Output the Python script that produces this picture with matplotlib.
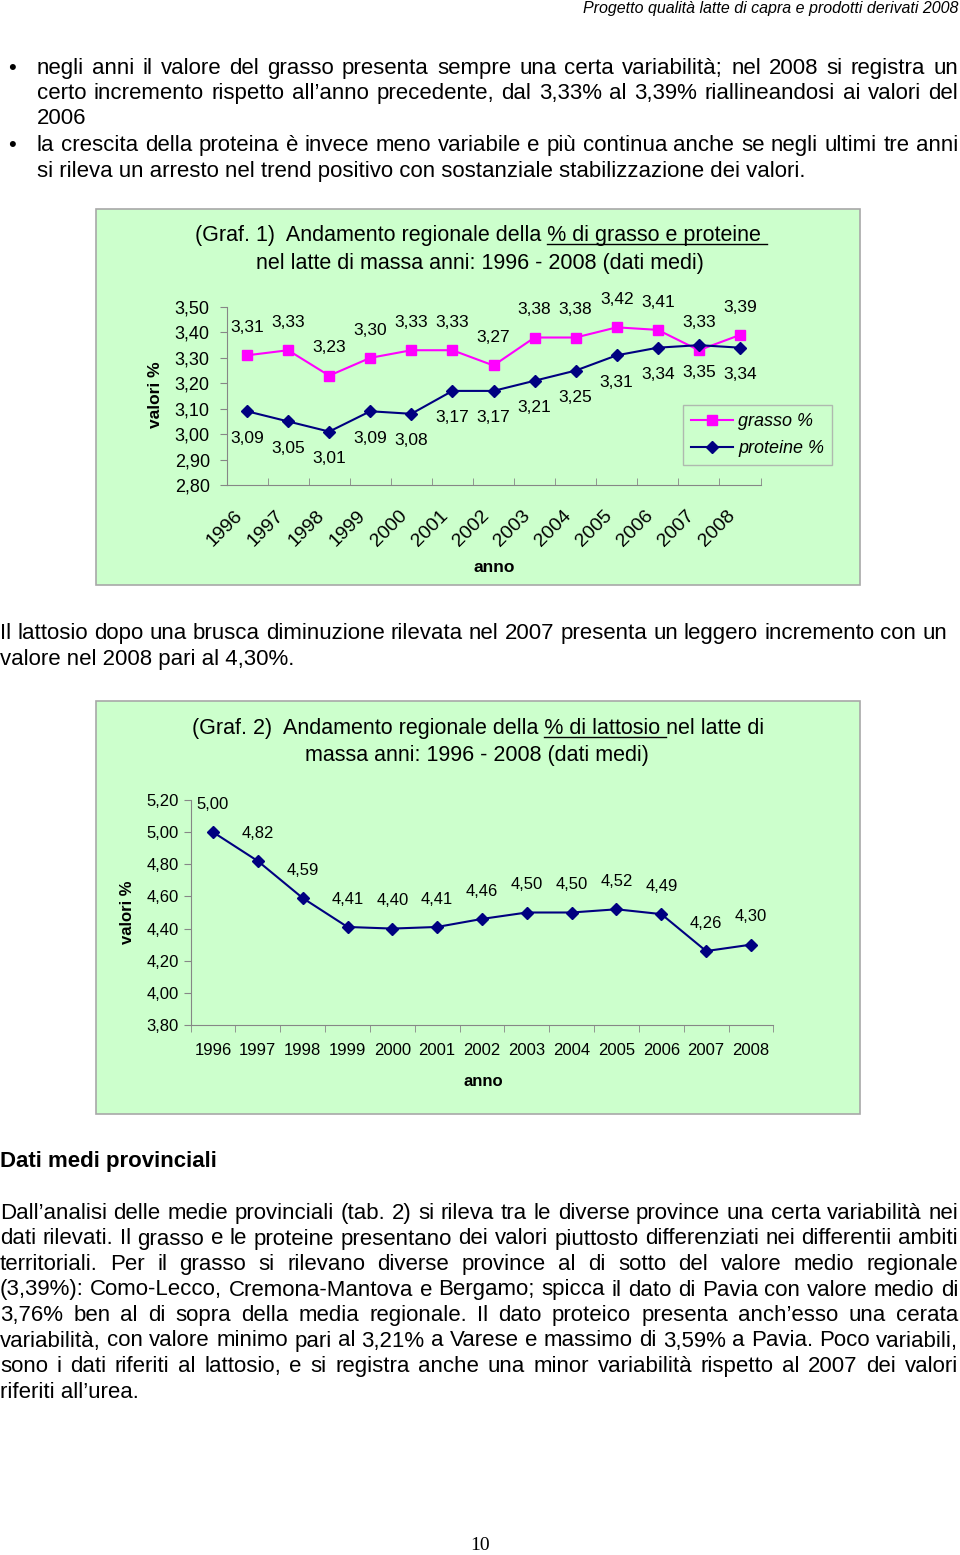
import numpy as np
import matplotlib
matplotlib.use('Agg')
import matplotlib.pyplot as plt
from matplotlib.lines import Line2D
from matplotlib.patches import Rectangle
from matplotlib.transforms import ScaledTranslation

# ---------------- data ----------------
years = ['1996', '1997', '1998', '1999', '2000', '2001', '2002',
         '2003', '2004', '2005', '2006', '2007', '2008']
grasso = [3.31, 3.33, 3.23, 3.30, 3.33, 3.33, 3.27, 3.38, 3.38, 3.42, 3.41, 3.33, 3.39]
proteine = [3.09, 3.05, 3.01, 3.09, 3.08, 3.17, 3.17, 3.21, 3.25, 3.31, 3.34, 3.35, 3.34]
lattosio = [5.00, 4.82, 4.59, 4.41, 4.40, 4.41, 4.46, 4.50, 4.50, 4.52, 4.49, 4.26, 4.30]
y1_ticks = [2.80, 2.90, 3.00, 3.10, 3.20, 3.30, 3.40, 3.50]
y2_ticks = [3.80, 4.00, 4.20, 4.40, 4.60, 4.80, 5.00, 5.20]

header = "Progetto qualità latte di capra e prodotti derivati 2008"
bullet1 = ["negli anni il valore del grasso presenta sempre una certa variabilità; nel 2008 si registra un",
           "certo incremento rispetto all’anno precedente, dal 3,33% al 3,39% riallineandosi ai valori del",
           "2006"]
bullet2 = ["la crescita della proteina è invece meno variabile e più continua anche se negli ultimi tre anni",
           "si rileva un arresto nel trend positivo con sostanziale stabilizzazione dei valori."]
latt_par = ["Il lattosio dopo una brusca diminuzione rilevata nel 2007 presenta un leggero incremento con un",
            "valore nel 2008 pari al 4,30%."]
section = "Dati medi provinciali"
final_par = ["Dall’analisi delle medie provinciali (tab. 2) si rileva tra le diverse province una certa variabilità nei",
             "dati rilevati. Il grasso e le proteine presentano dei valori piuttosto differenziati nei differentii ambiti",
             "territoriali. Per il grasso si rilevano diverse province al di sotto del valore medio regionale",
             "(3,39%): Como-Lecco, Cremona-Mantova e Bergamo; spicca il dato di Pavia con valore medio di",
             "3,76% ben al di sopra della media regionale. Il dato proteico presenta anch’esso una cerata",
             "variabilità, con valore minimo pari al 3,21% a Varese e massimo di 3,59% a Pavia. Poco variabili,",
             "sono i dati riferiti al lattosio, e si registra anche una minor variabilità rispetto al 2007 dei valori",
             "riferiti all’urea."]
title1 = ("(Graf. 1)  Andamento regionale della ", "% di grasso e proteine ", "")
title1b = "nel latte di massa anni: 1996 - 2008 (dati medi)"
title2 = ("(Graf. 2)  Andamento regionale della ", "% di lattosio ", "nel latte di")
title2b = "massa anni: 1996 - 2008 (dati medi)"

plt.rcParams['font.family'] = ['Liberation Sans', 'DejaVu Sans']

W, H = 960, 1555
fig = plt.figure(figsize=(9.6, 15.55), dpi=100)
fig.patch.set_facecolor('white')
renderer = fig.canvas.get_renderer()


def fx(x):
    return x / W


def fy(y):
    return 1 - y / H


def ptext(x, y, s, **kw):
    return fig.text(fx(x), fy(y), s, **kw)


def width_px(t):
    return t.get_window_extent(renderer=renderer).width


def adv(s, **kw):
    t1 = fig.text(0, 0, s + 'l', **kw)
    t2 = fig.text(0, 0, 'l', **kw)
    w = width_px(t1) - width_px(t2)
    t1.remove()
    t2.remove()
    return w


def line_out(line, x0, x1, y, size, just=True, **kw):
    words = line.split(' ')
    if not just or len(words) == 1:
        ptext(x0, y, line, fontsize=size, va='baseline', ha='left', **kw)
        return
    ts = [ptext(x0, y, w, fontsize=size, va='baseline', ha='left', **kw) for w in words]
    ws = [width_px(t) for t in ts]
    gap = (x1 - x0 - sum(ws)) / (len(words) - 1)
    x = x0
    for t, w in zip(ts, ws):
        t.set_x(fx(x))
        x += w + gap


BODY = 16
# header
ptext(958, 13, header, fontsize=11.5, style='italic', ha='right', va='baseline')

# bullets
ptext(8, 74, '•', fontsize=BODY, va='baseline')
line_out(bullet1[0], 37, 958, 74, BODY)
line_out(bullet1[1], 37, 958, 99, BODY)
line_out(bullet1[2], 37, 958, 124, BODY, just=False)
ptext(8, 151, '•', fontsize=BODY, va='baseline')
line_out(bullet2[0], 37, 958, 151, BODY)
line_out(bullet2[1], 37, 958, 177, BODY, just=False)

line_out(latt_par[0], 0, 947, 639, BODY)
line_out(latt_par[1], 0, 958, 665, BODY, just=False)

ptext(0, 1167, section, fontsize=BODY, fontweight='bold', va='baseline')
base = 1219
for i, l in enumerate(final_par):
    line_out(l, 0, 958, base + i * 25.5, BODY, just=(i < len(final_par) - 1))

ptext(480, 1550, '10', fontsize=14, family='Liberation Serif', ha='center', va='baseline')


def fmt(v):
    return f"{v:.2f}".replace('.', ',')


def title_line(parts, cx, y, size):
    pre, und, rest = parts
    full = pre + und + rest
    total = adv(full, fontsize=size)
    x0 = cx - total / 2
    ptext(x0, y, full, fontsize=size, ha='left', va='baseline')
    ua = x0 + adv(pre, fontsize=size)
    ub = x0 + adv(pre + und, fontsize=size)
    fig.add_artist(Line2D([fx(ua), fx(ub)], [fy(y + 3), fy(y + 3)],
                          transform=fig.transFigure, color='black', lw=1))


GRAY = '#868686'
BG = '#CCFFCC'
TSIZE = 15.5

# ---------------- chart 1 ----------------
fig.add_artist(Rectangle((fx(96), fy(585)), (860 - 96) / W, (585 - 209) / H,
                         transform=fig.transFigure, fc=BG, ec='#A8A8A8', lw=1.2, zorder=0))
title_line(title1, 481, 241, TSIZE)
ptext(480, 269, title1b, fontsize=TSIZE, ha='center', va='baseline')

ax1 = fig.add_axes([fx(226.5), fy(485), 534 / W, 178 / H])
ax1.patch.set_alpha(0)
x = np.arange(len(years))
ax1.plot(x, grasso, color='#FF00FF', marker='s', ms=6.5, lw=1.5, label='grasso %')
ax1.plot(x, proteine, color='#000080', marker='D', ms=6.5, lw=1.5, label='proteine %')
ax1.set_xlim(-0.5, 12.5)
ax1.set_ylim(2.80, 3.50)
ax1.set_yticks(y1_ticks, [fmt(v) for v in y1_ticks])
ax1.set_xticks(x, years, rotation=45, ha='right', rotation_mode='anchor')
ax1.set_xticks(np.arange(-0.5, 13, 1), minor=True)
for s in ['top', 'right']:
    ax1.spines[s].set_visible(False)
for s in ['left', 'bottom']:
    ax1.spines[s].set_color(GRAY)
ax1.tick_params(axis='y', length=5, color=GRAY, pad=7, labelsize=13)
ax1.tick_params(axis='x', which='major', length=0, pad=16, labelsize=14)
ax1.tick_params(axis='x', which='minor', length=5, direction='in', color=GRAY)
for lab in ax1.get_xticklabels():
    lab.set_transform(lab.get_transform() + ScaledTranslation(-0.13, 0, fig.dpi_scale_trans))
for i, v in enumerate(grasso):
    ax1.annotate(fmt(v), (i, v), xytext=(0, 20), textcoords='offset points',
                 ha='center', va='center', fontsize=12.5)
for i, v in enumerate(proteine):
    ax1.annotate(fmt(v), (i, v), xytext=(0, -19.5), textcoords='offset points',
                 ha='center', va='center', fontsize=12.5)
ax1.set_ylabel('valori %', fontweight='bold', fontsize=12.5, va='center')
ax1.yaxis.set_label_coords(fx(155), fy(395), transform=fig.transFigure)
ax1.set_xlabel('anno', fontweight='bold', fontsize=12.5, va='center')
ax1.xaxis.set_label_coords(fx(494), fy(567), transform=fig.transFigure)
leg = ax1.legend(loc='upper left', bbox_to_anchor=(fx(683), fy(405)),
                 bbox_transform=fig.transFigure, borderaxespad=0, frameon=True,
                 fancybox=False, edgecolor='#A8A8A8', facecolor='none',
                 prop={'style': 'italic', 'size': 13}, handlelength=2.3,
                 labelspacing=0.55, borderpad=0.45, handletextpad=0.3)
leg.get_frame().set_linewidth(1)

# ---------------- chart 2 ----------------
fig.add_artist(Rectangle((fx(96), fy(1114)), (860 - 96) / W, (1114 - 701) / H,
                         transform=fig.transFigure, fc=BG, ec='#A8A8A8', lw=1.2, zorder=0))
title_line(title2, 478, 734, TSIZE)
ptext(477, 761, title2b, fontsize=TSIZE, ha='center', va='baseline')

ax2 = fig.add_axes([fx(190.6), fy(1025), (773.4 - 190.6) / W, 225 / H])
ax2.patch.set_alpha(0)
ax2.plot(x, lattosio, color='#000080', marker='D', ms=6.5, lw=1.5)
ax2.set_xlim(-0.5, 12.5)
ax2.set_ylim(3.80, 5.20)
ax2.set_yticks(y2_ticks, [fmt(v) for v in y2_ticks])
ax2.set_xticks(x, years)
ax2.set_xticks(np.arange(-0.5, 13, 1), minor=True)
for s in ['top', 'right']:
    ax2.spines[s].set_visible(False)
for s in ['left', 'bottom']:
    ax2.spines[s].set_color(GRAY)
ax2.tick_params(axis='y', length=5, color=GRAY, pad=3.5, labelsize=12)
ax2.tick_params(axis='x', which='major', length=0, pad=13, labelsize=12)
ax2.tick_params(axis='x', which='minor', length=5, direction='out', color=GRAY)
for i, v in enumerate(lattosio):
    ax2.annotate(fmt(v), (i, v), xytext=(0, 20), textcoords='offset points',
                 ha='center', va='center', fontsize=12)
ax2.set_ylabel('valori %', fontweight='bold', fontsize=12, va='center')
ax2.yaxis.set_label_coords(fx(127), fy(912), transform=fig.transFigure)
ax2.set_xlabel('anno', fontweight='bold', fontsize=12, va='center')
ax2.xaxis.set_label_coords(fx(483), fy(1081), transform=fig.transFigure)

fig.savefig('out.png', dpi=100)
